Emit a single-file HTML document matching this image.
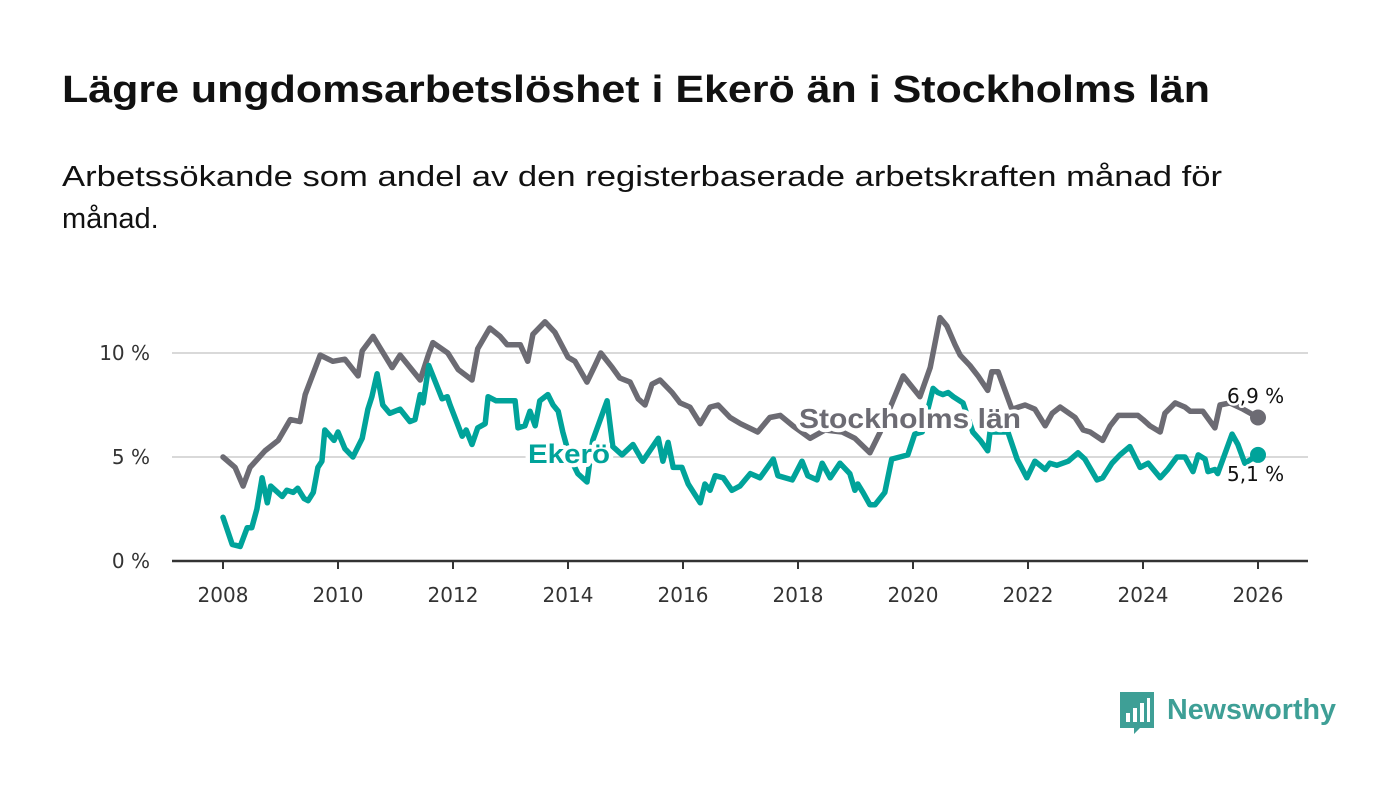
<!DOCTYPE html>
<html><head><meta charset="utf-8"><style>
html,body{margin:0;padding:0;background:#fff;}
svg{display:block;font-family:"Liberation Sans","DejaVu Sans",sans-serif;}
</style></head><body>
<svg id="chart" width="1400" height="794" viewBox="0 0 1400 794">
<text x="62" y="102" font-size="38" font-weight="bold" fill="#111" textLength="1148" lengthAdjust="spacingAndGlyphs">Lägre ungdomsarbetslöshet i Ekerö än i Stockholms län</text>
<text x="62" y="186" font-size="29" fill="#111" textLength="1160" lengthAdjust="spacingAndGlyphs">Arbetssökande som andel av den registerbaserade arbetskraften månad för</text>
<text x="62" y="228" font-size="29" fill="#111">månad.</text>
<g id="grid"></g><g id="axes"></g><g id="lines"></g><g id="labels"></g>
<g>
<path d="M1120 692 h34 v36 h-14 l-6 6 v-6 h-14 z" fill="#3e9f96"/>
<rect x="1126" y="713" width="4" height="9" fill="#fff"/><rect x="1133" y="708" width="4" height="14" fill="#fff"/><rect x="1140" y="703" width="4" height="19" fill="#fff"/><rect x="1147" y="698" width="3" height="24" fill="#fff"/>
<text x="1167" y="719" font-size="29" font-weight="bold" fill="#3e9f96" textLength="169" lengthAdjust="spacingAndGlyphs">Newsworthy</text>
</g>
</svg>
<script>
const years = [2008,2010,2012,2014,2016,2018,2020,2022,2024,2026];
const yTicks = [0,5,10];
const yTickLabels = ["0 %","5 %","10 %"];
const stockholmDates = [2008.00,2008.21,2008.35,2008.47,2008.73,2008.96,2009.17,2009.34,2009.43,2009.69,2009.91,2010.12,2010.35,2010.42,2010.61,2010.94,2011.08,2011.43,2011.57,2011.65,2011.91,2012.09,2012.33,2012.43,2012.64,2012.82,2012.94,2013.17,2013.30,2013.39,2013.60,2013.77,2014.00,2014.12,2014.33,2014.47,2014.57,2014.77,2014.90,2015.08,2015.22,2015.34,2015.46,2015.60,2015.81,2015.95,2016.12,2016.30,2016.47,2016.61,2016.82,2017.00,2017.30,2017.51,2017.69,2017.91,2018.21,2018.47,2018.77,2018.99,2019.25,2019.43,2019.65,2019.83,2020.12,2020.30,2020.47,2020.59,2020.73,2020.82,2020.99,2021.13,2021.30,2021.37,2021.48,2021.60,2021.72,2021.95,2022.12,2022.30,2022.42,2022.56,2022.82,2022.96,2023.08,2023.30,2023.43,2023.57,2023.91,2024.00,2024.12,2024.30,2024.38,2024.56,2024.73,2024.82,2025.04,2025.25,2025.34,2025.51,2025.74,2026.00];
const stockholmValues = [5.0,4.5,3.6,4.5,5.3,5.8,6.8,6.7,8.0,9.9,9.6,9.7,8.9,10.1,10.8,9.3,9.9,8.7,9.9,10.5,10.0,9.2,8.7,10.2,11.2,10.8,10.4,10.4,9.6,10.9,11.5,11.0,9.8,9.6,8.6,9.4,10.0,9.3,8.8,8.6,7.8,7.5,8.5,8.7,8.1,7.6,7.4,6.6,7.4,7.5,6.9,6.6,6.2,6.9,7.0,6.5,5.9,6.3,6.2,5.9,5.2,6.2,7.7,8.9,7.9,9.3,11.7,11.3,10.4,9.9,9.4,8.9,8.2,9.1,9.1,8.2,7.3,7.5,7.3,6.5,7.1,7.4,6.9,6.3,6.2,5.8,6.5,7.0,7.0,6.8,6.5,6.2,7.1,7.6,7.4,7.2,7.2,6.4,7.5,7.6,7.3,6.9];
const ekeroDates = [2008.00,2008.16,2008.30,2008.42,2008.50,2008.59,2008.68,2008.77,2008.83,2009.03,2009.11,2009.22,2009.30,2009.41,2009.48,2009.57,2009.65,2009.72,2009.77,2009.93,2010.00,2010.12,2010.26,2010.42,2010.52,2010.59,2010.68,2010.78,2010.90,2011.08,2011.25,2011.34,2011.43,2011.48,2011.58,2011.81,2011.90,2011.95,2012.16,2012.23,2012.33,2012.43,2012.56,2012.61,2012.75,2013.00,2013.08,2013.13,2013.25,2013.34,2013.43,2013.51,2013.65,2013.74,2013.83,2013.91,2014.03,2014.17,2014.33,2014.43,2014.68,2014.78,2014.94,2015.13,2015.30,2015.57,2015.65,2015.74,2015.83,2015.98,2016.09,2016.30,2016.38,2016.47,2016.56,2016.70,2016.85,2016.99,2017.17,2017.34,2017.57,2017.65,2017.90,2018.07,2018.17,2018.33,2018.42,2018.56,2018.73,2018.90,2018.99,2019.04,2019.13,2019.25,2019.34,2019.51,2019.63,2019.77,2019.91,2020.03,2020.16,2020.35,2020.43,2020.52,2020.61,2020.70,2020.87,2021.04,2021.17,2021.30,2021.34,2021.65,2021.81,2021.98,2022.12,2022.30,2022.38,2022.50,2022.70,2022.87,2022.99,2023.20,2023.30,2023.46,2023.60,2023.77,2023.95,2024.09,2024.30,2024.43,2024.59,2024.73,2024.87,2024.96,2025.08,2025.13,2025.25,2025.30,2025.55,2025.65,2025.77,2026.00];
const ekeroValues = [2.1,0.8,0.7,1.6,1.6,2.5,4.0,2.8,3.6,3.1,3.4,3.3,3.5,3.0,2.9,3.3,4.5,4.8,6.3,5.8,6.2,5.4,5.0,5.9,7.3,7.9,9.0,7.5,7.1,7.3,6.7,6.8,8.0,7.6,9.4,7.8,7.9,7.5,6.0,6.3,5.6,6.4,6.6,7.9,7.7,7.7,7.7,6.4,6.5,7.2,6.5,7.7,8.0,7.5,7.2,6.2,5.0,4.2,3.8,5.8,7.7,5.5,5.1,5.6,4.8,5.9,4.8,5.7,4.5,4.5,3.7,2.8,3.7,3.4,4.1,4.0,3.4,3.6,4.2,4.0,4.9,4.1,3.9,4.8,4.1,3.9,4.7,4.0,4.7,4.2,3.4,3.7,3.3,2.7,2.7,3.3,4.9,5.0,5.1,6.1,6.2,8.3,8.1,8.0,8.1,7.9,7.6,6.2,5.8,5.3,6.2,6.2,4.9,4.0,4.8,4.4,4.7,4.6,4.8,5.2,4.9,3.9,4.0,4.7,5.1,5.5,4.5,4.7,4.0,4.4,5.0,5.0,4.3,5.1,4.9,4.3,4.4,4.2,6.1,5.6,4.7,5.1];

const NS="http://www.w3.org/2000/svg";
const SMALL='"DejaVu Sans","Liberation Sans",sans-serif';
const X = d => 223 + (d-2008)*57.5;
const Y = v => 561 - v*20.8;
function mk(tag, attrs, parent){const e=document.createElementNS(NS,tag);for(const k in attrs)e.setAttribute(k,attrs[k]);parent.appendChild(e);return e;}
const grid=document.getElementById('grid'), axes=document.getElementById('axes'), lines=document.getElementById('lines'), labels=document.getElementById('labels');
yTicks.forEach((t,i)=>{
  if(t>0){const g=mk('line',{x1:172,x2:1308,y1:Y(t),y2:Y(t),stroke:'#d9d9d9','stroke-width':2},grid);
  
  }
  const tx=mk('text',{x:150,y:Y(t)+7,'font-size':20,fill:'#333','text-anchor':'end','font-family':SMALL},axes);
  tx.textContent=yTickLabels[i];
  
  
});
const ax=mk('line',{x1:172,x2:1308,y1:561,y2:561,stroke:'#333','stroke-width':2.5},axes);


years.forEach(yr=>{
  mk('line',{x1:X(yr),x2:X(yr),y1:561,y2:569,stroke:'#333','stroke-width':2},axes);
  const tx=mk('text',{x:X(yr),y:602,'font-size':20,fill:'#333','text-anchor':'middle','font-family':SMALL},axes);
  tx.textContent=yr;
  
  
});
function series(dates,vals,color,name){
  const d=dates.map((t,i)=>(i?'L':'M')+X(t).toFixed(1)+' '+Y(vals[i]).toFixed(1)).join(' ');
  const p=mk('path',{d:d,fill:'none',stroke:color,'stroke-width':5.5,'stroke-linejoin':'round','stroke-linecap':'round'},lines);
  
  
  const n=dates.length-1;
  const c=mk('circle',{cx:X(dates[n]),cy:Y(vals[n]),r:8,fill:color},lines);
  
  
}
series(stockholmDates,stockholmValues,'#6c6b73','stockholm');
series(ekeroDates,ekeroValues,'#00a39a','ekero');
function lab(x,y,txt,color,size,bold,name,halo,len,fam){
  const a={x:x,y:y,'font-size':size,fill:color,'font-weight':bold?'bold':'normal',stroke:'#fff','stroke-width':halo,'paint-order':'stroke','stroke-linejoin':'round'};
  if(len){a.textLength=len;a.lengthAdjust='spacingAndGlyphs';}
  if(fam)a['font-family']=fam;
  const t=mk('text',a,labels);
  t.textContent=txt;
  
  
}
lab(799,428,'Stockholms län','#6c6b73',28,true,'stockholm-label',8,222);
lab(528,463,'Ekerö','#00a39a',27,true,'ekero-label',8,82);
const ns=stockholmValues.length-1, ne=ekeroValues.length-1;
lab(1227,403,stockholmValues[ns].toFixed(1).replace('.',',')+' %','#111',20,false,'stockholm-value-label',5,0,SMALL);
lab(1227,481,ekeroValues[ne].toFixed(1).replace('.',',')+' %','#111',20,false,'ekero-value-label',5,0,SMALL);
</script>
</body></html>
